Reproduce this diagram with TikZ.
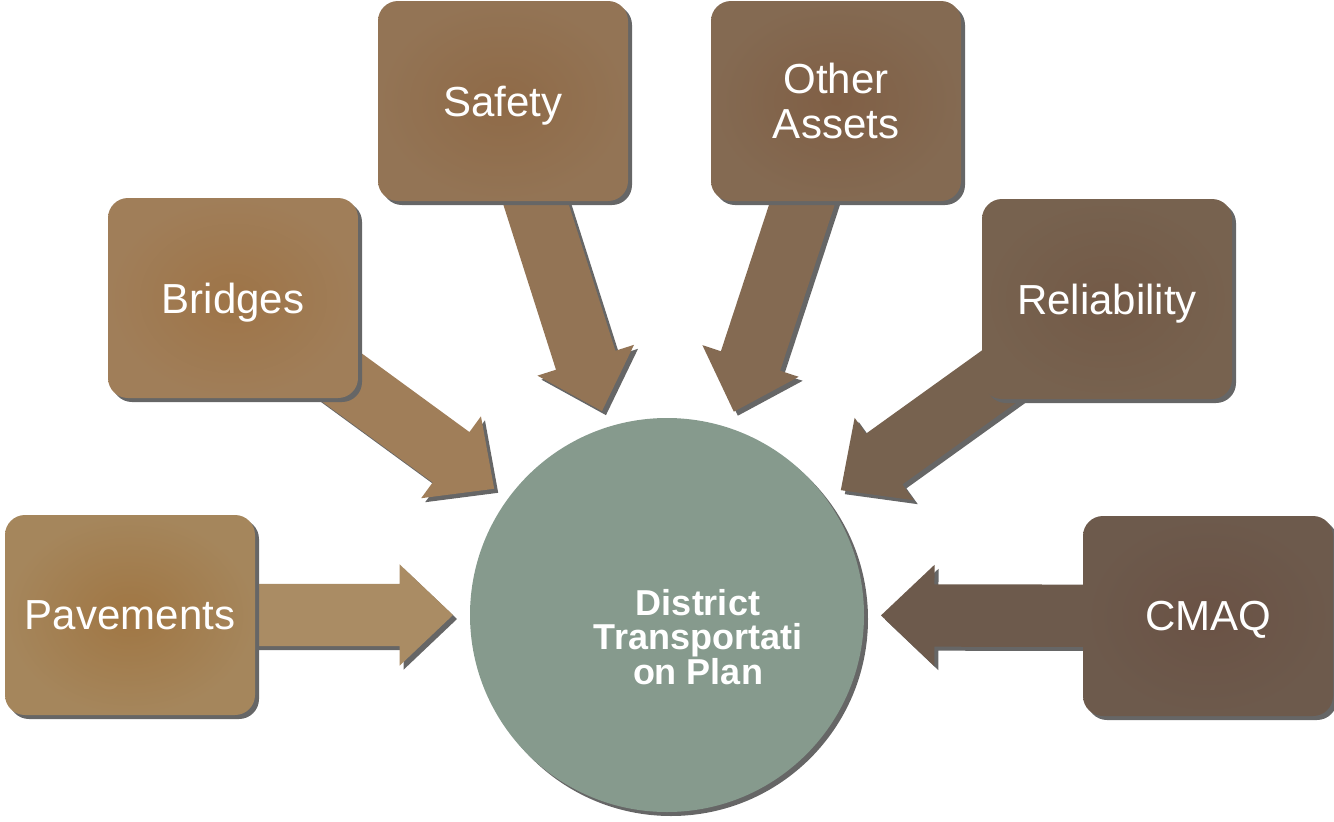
\documentclass[tikz,border=0pt]{standalone}
\usepackage{fontspec}
\setmainfont{Liberation Sans}
\usetikzlibrary{shapes.arrows,shadows,calc}
\definecolor{shadowgray}{HTML}{666666}
\definecolor{hubcol}{HTML}{869A8D}
\definecolor{pavecol}{HTML}{A5865C}
\definecolor{paveinner}{HTML}{A07643}
\definecolor{bridgecol}{HTML}{A07E59}
\definecolor{bridgeinner}{HTML}{9E7447}
\definecolor{safetycol}{HTML}{937455}
\definecolor{safetyinner}{HTML}{8F6A47}
\definecolor{assetcol}{HTML}{846A52}
\definecolor{assetinner}{HTML}{805F45}
\definecolor{relcol}{HTML}{77624F}
\definecolor{relinner}{HTML}{735A47}
\definecolor{cmaqcol}{HTML}{6D5A4C}
\definecolor{cmaqinner}{HTML}{6A5245}
\pgfdeclarelayer{background}
\pgfsetlayers{background,main}
\tikzset{
  topic/.style={rectangle, rounded corners=20pt, minimum width=250pt,
    minimum height=200pt, text=white, align=center, text depth=0pt,
    font=\fontsize{42}{45}\selectfont, shading=radial,
    drop shadow={shadow xshift=4pt, shadow yshift=-4pt, opacity=1, fill=shadowgray}},
  feedarrow/.style={single arrow, minimum height=324pt, minimum width=0pt,
    inner xsep=0pt, inner ysep=31pt, single arrow head extend=19.5pt,
    single arrow tip angle=87, outer sep=0pt, sloped, allow upside down,
    pos=1, anchor=tip},
  hubtext/.style={text=white, align=center, font=\bfseries\fontsize{36}{34.5}\selectfont}
}
% arrow from a topic box into the hub, with its shadow
\newcommand{\feed}[3]{%
  \path[transform canvas={xshift=4pt,yshift=-4pt}] (#1.center) --
    ($(hub.center)!214pt!(#1.center)$) node[feedarrow, fill=shadowgray] {};
  \path (#1.center) -- ($(hub.center)!214pt!(#1.center)$)
    node[feedarrow, fill=#3] (#2) {};
}
\begin{document}
\begin{tikzpicture}[x=1pt,y=-1pt]
\useasboundingbox (0,0) rectangle (1334,822);

% hub
\node[circle, minimum size=394pt, fill=hubcol, inner sep=0pt,
  drop shadow={shadow xshift=4pt, shadow yshift=-4pt, opacity=1, fill=shadowgray}]
  (hub) at (667,615) {};
\node[hubtext] (hublabel) at (698,637) {District\\Transportati\\on Plan};

% topics
\node[topic, inner color=paveinner, outer color=pavecol] (pave) at (130,615) {Pavements};
\node[topic, inner color=bridgeinner, outer color=bridgecol] (bridge) at (233,298) {Bridges};
\node[topic, inner color=safetyinner, outer color=safetycol] (safety) at (503,101) {Safety};
\node[topic, inner color=assetinner, outer color=assetcol] (asset) at (836,101) {Other\\Assets};
\node[topic, inner color=relinner, outer color=relcol] (rel) at (1107,299) {Reliability};
\node[topic, inner color=cmaqinner, outer color=cmaqcol] (cmaq) at (1208,616) {CMAQ};

% arrows behind the boxes
\begin{pgfonlayer}{background}
\feed{pave}{a1}{pavecol!95!white}
\feed{bridge}{a2}{bridgecol}
\feed{safety}{a3}{safetycol}
\feed{asset}{a4}{assetcol}
\feed{rel}{a5}{relcol}
\feed{cmaq}{a6}{cmaqcol}
\end{pgfonlayer}
\end{tikzpicture}
\end{document}
